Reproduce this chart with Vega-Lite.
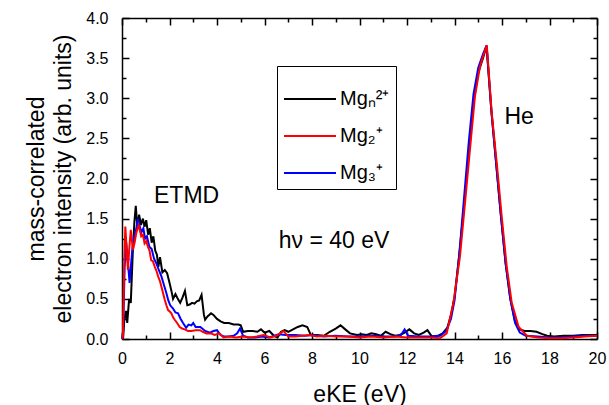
{
  "$schema": "https://vega.github.io/schema/vega-lite/v6.json",
  "width": 475,
  "height": 321,
  "autosize": {"type": "none"},
  "padding": {"left": 122, "top": 18, "right": 12, "bottom": 66},
  "background": "white",
  "config": {
    "font": "Liberation Sans",
    "view": {"stroke": null},
    "axis": {
      "domainColor": "black", "domainWidth": 1.5,
      "labelColor": "black", "labelFontSize": 16, "labelFont": "Liberation Sans",
      "titleFontSize": 23, "titleFontWeight": "normal", "titleColor": "black", "titleFont": "Liberation Sans"
    },
    "legend": {"labelFont": "Liberation Sans"}
  },
  "datasets": {
    "curves": [
      {"series": "Mgₙ²⁺", "x": 0, "y": 0},
      {"series": "Mgₙ²⁺", "x": 0.05, "y": 0.02},
      {"series": "Mgₙ²⁺", "x": 0.1, "y": 0.25},
      {"series": "Mgₙ²⁺", "x": 0.17, "y": 0.35},
      {"series": "Mgₙ²⁺", "x": 0.22, "y": 0.2},
      {"series": "Mgₙ²⁺", "x": 0.3, "y": 0.5},
      {"series": "Mgₙ²⁺", "x": 0.37, "y": 0.45},
      {"series": "Mgₙ²⁺", "x": 0.45, "y": 1.05},
      {"series": "Mgₙ²⁺", "x": 0.52, "y": 1.45},
      {"series": "Mgₙ²⁺", "x": 0.58, "y": 1.66},
      {"series": "Mgₙ²⁺", "x": 0.65, "y": 1.38},
      {"series": "Mgₙ²⁺", "x": 0.72, "y": 1.55},
      {"series": "Mgₙ²⁺", "x": 0.8, "y": 1.42},
      {"series": "Mgₙ²⁺", "x": 0.88, "y": 1.5},
      {"series": "Mgₙ²⁺", "x": 0.95, "y": 1.4},
      {"series": "Mgₙ²⁺", "x": 1.02, "y": 1.48},
      {"series": "Mgₙ²⁺", "x": 1.1, "y": 1.3},
      {"series": "Mgₙ²⁺", "x": 1.17, "y": 1.38},
      {"series": "Mgₙ²⁺", "x": 1.25, "y": 1.2},
      {"series": "Mgₙ²⁺", "x": 1.32, "y": 1.28},
      {"series": "Mgₙ²⁺", "x": 1.4, "y": 1.1},
      {"series": "Mgₙ²⁺", "x": 1.47, "y": 1.05},
      {"series": "Mgₙ²⁺", "x": 1.53, "y": 0.9},
      {"series": "Mgₙ²⁺", "x": 1.6, "y": 1.02},
      {"series": "Mgₙ²⁺", "x": 1.7, "y": 0.83},
      {"series": "Mgₙ²⁺", "x": 1.8, "y": 0.86},
      {"series": "Mgₙ²⁺", "x": 1.9, "y": 0.82},
      {"series": "Mgₙ²⁺", "x": 2.0, "y": 0.7},
      {"series": "Mgₙ²⁺", "x": 2.08, "y": 0.6},
      {"series": "Mgₙ²⁺", "x": 2.15, "y": 0.5},
      {"series": "Mgₙ²⁺", "x": 2.25, "y": 0.56},
      {"series": "Mgₙ²⁺", "x": 2.35, "y": 0.5},
      {"series": "Mgₙ²⁺", "x": 2.45, "y": 0.45},
      {"series": "Mgₙ²⁺", "x": 2.55, "y": 0.52},
      {"series": "Mgₙ²⁺", "x": 2.65, "y": 0.6},
      {"series": "Mgₙ²⁺", "x": 2.75, "y": 0.42},
      {"series": "Mgₙ²⁺", "x": 2.85, "y": 0.43},
      {"series": "Mgₙ²⁺", "x": 2.95, "y": 0.45},
      {"series": "Mgₙ²⁺", "x": 3.05, "y": 0.44},
      {"series": "Mgₙ²⁺", "x": 3.15, "y": 0.47},
      {"series": "Mgₙ²⁺", "x": 3.25, "y": 0.48},
      {"series": "Mgₙ²⁺", "x": 3.35, "y": 0.55},
      {"series": "Mgₙ²⁺", "x": 3.45, "y": 0.3},
      {"series": "Mgₙ²⁺", "x": 3.5, "y": 0.24},
      {"series": "Mgₙ²⁺", "x": 3.6, "y": 0.28},
      {"series": "Mgₙ²⁺", "x": 3.75, "y": 0.32},
      {"series": "Mgₙ²⁺", "x": 3.85, "y": 0.3},
      {"series": "Mgₙ²⁺", "x": 4.0, "y": 0.25},
      {"series": "Mgₙ²⁺", "x": 4.15, "y": 0.22},
      {"series": "Mgₙ²⁺", "x": 4.3, "y": 0.2},
      {"series": "Mgₙ²⁺", "x": 4.5, "y": 0.2},
      {"series": "Mgₙ²⁺", "x": 4.7, "y": 0.18},
      {"series": "Mgₙ²⁺", "x": 4.9, "y": 0.18},
      {"series": "Mgₙ²⁺", "x": 5.0, "y": 0.17},
      {"series": "Mgₙ²⁺", "x": 5.1, "y": 0.09},
      {"series": "Mgₙ²⁺", "x": 5.3, "y": 0.1},
      {"series": "Mgₙ²⁺", "x": 5.5, "y": 0.1},
      {"series": "Mgₙ²⁺", "x": 5.7, "y": 0.09},
      {"series": "Mgₙ²⁺", "x": 5.85, "y": 0.12},
      {"series": "Mgₙ²⁺", "x": 6.0, "y": 0.08},
      {"series": "Mgₙ²⁺", "x": 6.2, "y": 0.1},
      {"series": "Mgₙ²⁺", "x": 6.4, "y": 0.04},
      {"series": "Mgₙ²⁺", "x": 6.55, "y": 0.02},
      {"series": "Mgₙ²⁺", "x": 6.7, "y": 0.09},
      {"series": "Mgₙ²⁺", "x": 6.85, "y": 0.11},
      {"series": "Mgₙ²⁺", "x": 7.0, "y": 0.09},
      {"series": "Mgₙ²⁺", "x": 7.2, "y": 0.12},
      {"series": "Mgₙ²⁺", "x": 7.4, "y": 0.15},
      {"series": "Mgₙ²⁺", "x": 7.6, "y": 0.17},
      {"series": "Mgₙ²⁺", "x": 7.8, "y": 0.15},
      {"series": "Mgₙ²⁺", "x": 7.95, "y": 0.05},
      {"series": "Mgₙ²⁺", "x": 8.2, "y": 0.05},
      {"series": "Mgₙ²⁺", "x": 8.5, "y": 0.04},
      {"series": "Mgₙ²⁺", "x": 8.75, "y": 0.09},
      {"series": "Mgₙ²⁺", "x": 9.0, "y": 0.13},
      {"series": "Mgₙ²⁺", "x": 9.2, "y": 0.17},
      {"series": "Mgₙ²⁺", "x": 9.4, "y": 0.12},
      {"series": "Mgₙ²⁺", "x": 9.6, "y": 0.07},
      {"series": "Mgₙ²⁺", "x": 9.9, "y": 0.05},
      {"series": "Mgₙ²⁺", "x": 10.1, "y": 0.06},
      {"series": "Mgₙ²⁺", "x": 10.3, "y": 0.05},
      {"series": "Mgₙ²⁺", "x": 10.5, "y": 0.07},
      {"series": "Mgₙ²⁺", "x": 10.7, "y": 0.06},
      {"series": "Mgₙ²⁺", "x": 10.9, "y": 0.04},
      {"series": "Mgₙ²⁺", "x": 11.1, "y": 0.09},
      {"series": "Mgₙ²⁺", "x": 11.3, "y": 0.06},
      {"series": "Mgₙ²⁺", "x": 11.5, "y": 0.04},
      {"series": "Mgₙ²⁺", "x": 11.7, "y": 0.05},
      {"series": "Mgₙ²⁺", "x": 11.9, "y": 0.08},
      {"series": "Mgₙ²⁺", "x": 12.1, "y": 0.12},
      {"series": "Mgₙ²⁺", "x": 12.3, "y": 0.07},
      {"series": "Mgₙ²⁺", "x": 12.5, "y": 0.05},
      {"series": "Mgₙ²⁺", "x": 12.7, "y": 0.08},
      {"series": "Mgₙ²⁺", "x": 12.86, "y": 0.11},
      {"series": "Mgₙ²⁺", "x": 13.05, "y": 0.03},
      {"series": "Mgₙ²⁺", "x": 13.3, "y": 0.04},
      {"series": "Mgₙ²⁺", "x": 13.5, "y": 0.07},
      {"series": "Mgₙ²⁺", "x": 13.7, "y": 0.14},
      {"series": "Mgₙ²⁺", "x": 13.85, "y": 0.3},
      {"series": "Mgₙ²⁺", "x": 14.0, "y": 0.52},
      {"series": "Mgₙ²⁺", "x": 14.2, "y": 1.05},
      {"series": "Mgₙ²⁺", "x": 14.4, "y": 1.65},
      {"series": "Mgₙ²⁺", "x": 14.6, "y": 2.3},
      {"series": "Mgₙ²⁺", "x": 14.8, "y": 2.95},
      {"series": "Mgₙ²⁺", "x": 15.0, "y": 3.32},
      {"series": "Mgₙ²⁺", "x": 15.2, "y": 3.5},
      {"series": "Mgₙ²⁺", "x": 15.35, "y": 3.65},
      {"series": "Mgₙ²⁺", "x": 15.55, "y": 2.85},
      {"series": "Mgₙ²⁺", "x": 15.75, "y": 2.2},
      {"series": "Mgₙ²⁺", "x": 15.95, "y": 1.55},
      {"series": "Mgₙ²⁺", "x": 16.15, "y": 0.95},
      {"series": "Mgₙ²⁺", "x": 16.35, "y": 0.5},
      {"series": "Mgₙ²⁺", "x": 16.55, "y": 0.22},
      {"series": "Mgₙ²⁺", "x": 16.75, "y": 0.12},
      {"series": "Mgₙ²⁺", "x": 16.95, "y": 0.1},
      {"series": "Mgₙ²⁺", "x": 17.2, "y": 0.1},
      {"series": "Mgₙ²⁺", "x": 17.45, "y": 0.09},
      {"series": "Mgₙ²⁺", "x": 17.7, "y": 0.06},
      {"series": "Mgₙ²⁺", "x": 17.9, "y": 0.04},
      {"series": "Mgₙ²⁺", "x": 18.2, "y": 0.03},
      {"series": "Mgₙ²⁺", "x": 18.6, "y": 0.04},
      {"series": "Mgₙ²⁺", "x": 19.0, "y": 0.04},
      {"series": "Mgₙ²⁺", "x": 19.4, "y": 0.05},
      {"series": "Mgₙ²⁺", "x": 19.8, "y": 0.05},
      {"series": "Mgₙ²⁺", "x": 20.0, "y": 0.05},

      {"series": "Mg₃⁺", "x": 0, "y": 0},
      {"series": "Mg₃⁺", "x": 0.05, "y": 0.1},
      {"series": "Mg₃⁺", "x": 0.11, "y": 0.9},
      {"series": "Mg₃⁺", "x": 0.18, "y": 1.2},
      {"series": "Mg₃⁺", "x": 0.25, "y": 0.95},
      {"series": "Mg₃⁺", "x": 0.32, "y": 0.7},
      {"series": "Mg₃⁺", "x": 0.4, "y": 1.0},
      {"series": "Mg₃⁺", "x": 0.46, "y": 1.2},
      {"series": "Mg₃⁺", "x": 0.53, "y": 1.3},
      {"series": "Mg₃⁺", "x": 0.6, "y": 1.37},
      {"series": "Mg₃⁺", "x": 0.67, "y": 1.5},
      {"series": "Mg₃⁺", "x": 0.75, "y": 1.4},
      {"series": "Mg₃⁺", "x": 0.82, "y": 1.33},
      {"series": "Mg₃⁺", "x": 0.9, "y": 1.38},
      {"series": "Mg₃⁺", "x": 0.97, "y": 1.25},
      {"series": "Mg₃⁺", "x": 1.05, "y": 1.28},
      {"series": "Mg₃⁺", "x": 1.15, "y": 1.15},
      {"series": "Mg₃⁺", "x": 1.25, "y": 1.12},
      {"series": "Mg₃⁺", "x": 1.35, "y": 1.0},
      {"series": "Mg₃⁺", "x": 1.45, "y": 0.94},
      {"series": "Mg₃⁺", "x": 1.55, "y": 0.86},
      {"series": "Mg₃⁺", "x": 1.66, "y": 0.78},
      {"series": "Mg₃⁺", "x": 1.76, "y": 0.68},
      {"series": "Mg₃⁺", "x": 1.87, "y": 0.57},
      {"series": "Mg₃⁺", "x": 1.95, "y": 0.48},
      {"series": "Mg₃⁺", "x": 2.03, "y": 0.42},
      {"series": "Mg₃⁺", "x": 2.15, "y": 0.38},
      {"series": "Mg₃⁺", "x": 2.25, "y": 0.33},
      {"series": "Mg₃⁺", "x": 2.36, "y": 0.32},
      {"series": "Mg₃⁺", "x": 2.47, "y": 0.25},
      {"series": "Mg₃⁺", "x": 2.57, "y": 0.2},
      {"series": "Mg₃⁺", "x": 2.7, "y": 0.14},
      {"series": "Mg₃⁺", "x": 2.8, "y": 0.18},
      {"series": "Mg₃⁺", "x": 2.92, "y": 0.17},
      {"series": "Mg₃⁺", "x": 3.0, "y": 0.2},
      {"series": "Mg₃⁺", "x": 3.1, "y": 0.15},
      {"series": "Mg₃⁺", "x": 3.3, "y": 0.15},
      {"series": "Mg₃⁺", "x": 3.5, "y": 0.1},
      {"series": "Mg₃⁺", "x": 3.7, "y": 0.08},
      {"series": "Mg₃⁺", "x": 3.85, "y": 0.1},
      {"series": "Mg₃⁺", "x": 4.0, "y": 0.11},
      {"series": "Mg₃⁺", "x": 4.15, "y": 0.05},
      {"series": "Mg₃⁺", "x": 4.3, "y": 0.03},
      {"series": "Mg₃⁺", "x": 4.5, "y": 0.03},
      {"series": "Mg₃⁺", "x": 4.7, "y": 0.04},
      {"series": "Mg₃⁺", "x": 4.85, "y": 0.07},
      {"series": "Mg₃⁺", "x": 4.97, "y": 0.13},
      {"series": "Mg₃⁺", "x": 5.1, "y": 0.04},
      {"series": "Mg₃⁺", "x": 5.3, "y": 0.02},
      {"series": "Mg₃⁺", "x": 5.6, "y": 0.02},
      {"series": "Mg₃⁺", "x": 5.9, "y": 0.03},
      {"series": "Mg₃⁺", "x": 6.2, "y": 0.02},
      {"series": "Mg₃⁺", "x": 6.6, "y": 0.06},
      {"series": "Mg₃⁺", "x": 6.9, "y": 0.05},
      {"series": "Mg₃⁺", "x": 7.3, "y": 0.05},
      {"series": "Mg₃⁺", "x": 7.7, "y": 0.04},
      {"series": "Mg₃⁺", "x": 8.0, "y": 0.05},
      {"series": "Mg₃⁺", "x": 8.5, "y": 0.03},
      {"series": "Mg₃⁺", "x": 9.0, "y": 0.04},
      {"series": "Mg₃⁺", "x": 9.5, "y": 0.03},
      {"series": "Mg₃⁺", "x": 10.0, "y": 0.03},
      {"series": "Mg₃⁺", "x": 10.5, "y": 0.04},
      {"series": "Mg₃⁺", "x": 11.0, "y": 0.03},
      {"series": "Mg₃⁺", "x": 11.5, "y": 0.03},
      {"series": "Mg₃⁺", "x": 11.75, "y": 0.05},
      {"series": "Mg₃⁺", "x": 11.9, "y": 0.12},
      {"series": "Mg₃⁺", "x": 12.05, "y": 0.04},
      {"series": "Mg₃⁺", "x": 12.5, "y": 0.03},
      {"series": "Mg₃⁺", "x": 13.0, "y": 0.03},
      {"series": "Mg₃⁺", "x": 13.4, "y": 0.04},
      {"series": "Mg₃⁺", "x": 13.65, "y": 0.1},
      {"series": "Mg₃⁺", "x": 13.85, "y": 0.25},
      {"series": "Mg₃⁺", "x": 14.0, "y": 0.48},
      {"series": "Mg₃⁺", "x": 14.2, "y": 1.05},
      {"series": "Mg₃⁺", "x": 14.4, "y": 1.75},
      {"series": "Mg₃⁺", "x": 14.6, "y": 2.45},
      {"series": "Mg₃⁺", "x": 14.8, "y": 3.05},
      {"series": "Mg₃⁺", "x": 15.0, "y": 3.38},
      {"series": "Mg₃⁺", "x": 15.2, "y": 3.55},
      {"series": "Mg₃⁺", "x": 15.35, "y": 3.66},
      {"series": "Mg₃⁺", "x": 15.55, "y": 2.85},
      {"series": "Mg₃⁺", "x": 15.75, "y": 2.2},
      {"series": "Mg₃⁺", "x": 15.95, "y": 1.55},
      {"series": "Mg₃⁺", "x": 16.15, "y": 0.95},
      {"series": "Mg₃⁺", "x": 16.35, "y": 0.5},
      {"series": "Mg₃⁺", "x": 16.55, "y": 0.2},
      {"series": "Mg₃⁺", "x": 16.75, "y": 0.08},
      {"series": "Mg₃⁺", "x": 17.0, "y": 0.04},
      {"series": "Mg₃⁺", "x": 17.5, "y": 0.03},
      {"series": "Mg₃⁺", "x": 18.0, "y": 0.02},
      {"series": "Mg₃⁺", "x": 18.5, "y": 0.02},
      {"series": "Mg₃⁺", "x": 19.0, "y": 0.03},
      {"series": "Mg₃⁺", "x": 19.5, "y": 0.04},
      {"series": "Mg₃⁺", "x": 20.0, "y": 0.04},

      {"series": "Mg₂⁺", "x": 0, "y": 0},
      {"series": "Mg₂⁺", "x": 0.04, "y": 0.03},
      {"series": "Mg₂⁺", "x": 0.1, "y": 1.0},
      {"series": "Mg₂⁺", "x": 0.14, "y": 1.4},
      {"series": "Mg₂⁺", "x": 0.2, "y": 1.1},
      {"series": "Mg₂⁺", "x": 0.25, "y": 0.86},
      {"series": "Mg₂⁺", "x": 0.3, "y": 1.1},
      {"series": "Mg₂⁺", "x": 0.37, "y": 1.36},
      {"series": "Mg₂⁺", "x": 0.46, "y": 1.11},
      {"series": "Mg₂⁺", "x": 0.53, "y": 1.2},
      {"series": "Mg₂⁺", "x": 0.6, "y": 1.32},
      {"series": "Mg₂⁺", "x": 0.7, "y": 1.42},
      {"series": "Mg₂⁺", "x": 0.81, "y": 1.28},
      {"series": "Mg₂⁺", "x": 0.88, "y": 1.3},
      {"series": "Mg₂⁺", "x": 0.95, "y": 1.19},
      {"series": "Mg₂⁺", "x": 1.02, "y": 1.22},
      {"series": "Mg₂⁺", "x": 1.09, "y": 1.15},
      {"series": "Mg₂⁺", "x": 1.16, "y": 1.1},
      {"series": "Mg₂⁺", "x": 1.23, "y": 0.98},
      {"series": "Mg₂⁺", "x": 1.3, "y": 0.97},
      {"series": "Mg₂⁺", "x": 1.38, "y": 0.9},
      {"series": "Mg₂⁺", "x": 1.45, "y": 0.85},
      {"series": "Mg₂⁺", "x": 1.52, "y": 0.78},
      {"series": "Mg₂⁺", "x": 1.6, "y": 0.72},
      {"series": "Mg₂⁺", "x": 1.66, "y": 0.65},
      {"series": "Mg₂⁺", "x": 1.73, "y": 0.57},
      {"series": "Mg₂⁺", "x": 1.8, "y": 0.49},
      {"series": "Mg₂⁺", "x": 1.87, "y": 0.42},
      {"series": "Mg₂⁺", "x": 1.94, "y": 0.36},
      {"series": "Mg₂⁺", "x": 2.02, "y": 0.34},
      {"series": "Mg₂⁺", "x": 2.08, "y": 0.32},
      {"series": "Mg₂⁺", "x": 2.15, "y": 0.27},
      {"series": "Mg₂⁺", "x": 2.22, "y": 0.24},
      {"series": "Mg₂⁺", "x": 2.32, "y": 0.2},
      {"series": "Mg₂⁺", "x": 2.43, "y": 0.15},
      {"series": "Mg₂⁺", "x": 2.53, "y": 0.13},
      {"series": "Mg₂⁺", "x": 2.64, "y": 0.12},
      {"series": "Mg₂⁺", "x": 2.78, "y": 0.1},
      {"series": "Mg₂⁺", "x": 2.92, "y": 0.1},
      {"series": "Mg₂⁺", "x": 3.1, "y": 0.11},
      {"series": "Mg₂⁺", "x": 3.28, "y": 0.11},
      {"series": "Mg₂⁺", "x": 3.4, "y": 0.09},
      {"series": "Mg₂⁺", "x": 3.56, "y": 0.07},
      {"series": "Mg₂⁺", "x": 3.75, "y": 0.07},
      {"series": "Mg₂⁺", "x": 3.9, "y": 0.05},
      {"series": "Mg₂⁺", "x": 4.1, "y": 0.07},
      {"series": "Mg₂⁺", "x": 4.27, "y": 0.02},
      {"series": "Mg₂⁺", "x": 4.5, "y": 0.03},
      {"series": "Mg₂⁺", "x": 4.8, "y": 0.02},
      {"series": "Mg₂⁺", "x": 5.1, "y": 0.03},
      {"series": "Mg₂⁺", "x": 5.4, "y": 0.02},
      {"series": "Mg₂⁺", "x": 5.68, "y": 0.03},
      {"series": "Mg₂⁺", "x": 5.96, "y": 0.05},
      {"series": "Mg₂⁺", "x": 6.25, "y": 0.02},
      {"series": "Mg₂⁺", "x": 6.5, "y": 0.04},
      {"series": "Mg₂⁺", "x": 6.8, "y": 0.1},
      {"series": "Mg₂⁺", "x": 7.0, "y": 0.03},
      {"series": "Mg₂⁺", "x": 7.3, "y": 0.03},
      {"series": "Mg₂⁺", "x": 7.6, "y": 0.04},
      {"series": "Mg₂⁺", "x": 7.9, "y": 0.05},
      {"series": "Mg₂⁺", "x": 8.2, "y": 0.03},
      {"series": "Mg₂⁺", "x": 8.6, "y": 0.04},
      {"series": "Mg₂⁺", "x": 9.0, "y": 0.03},
      {"series": "Mg₂⁺", "x": 9.5, "y": 0.03},
      {"series": "Mg₂⁺", "x": 10.0, "y": 0.02},
      {"series": "Mg₂⁺", "x": 10.5, "y": 0.03},
      {"series": "Mg₂⁺", "x": 11.0, "y": 0.02},
      {"series": "Mg₂⁺", "x": 11.5, "y": 0.03},
      {"series": "Mg₂⁺", "x": 12.0, "y": 0.02},
      {"series": "Mg₂⁺", "x": 12.5, "y": 0.02},
      {"series": "Mg₂⁺", "x": 13.0, "y": 0.02},
      {"series": "Mg₂⁺", "x": 13.39, "y": 0.01},
      {"series": "Mg₂⁺", "x": 13.67, "y": 0.07},
      {"series": "Mg₂⁺", "x": 13.95, "y": 0.44},
      {"series": "Mg₂⁺", "x": 14.23, "y": 1.03},
      {"series": "Mg₂⁺", "x": 14.44, "y": 1.69},
      {"series": "Mg₂⁺", "x": 14.65, "y": 2.36},
      {"series": "Mg₂⁺", "x": 14.86, "y": 3.02},
      {"series": "Mg₂⁺", "x": 15.07, "y": 3.39},
      {"series": "Mg₂⁺", "x": 15.2, "y": 3.52},
      {"series": "Mg₂⁺", "x": 15.36, "y": 3.66},
      {"series": "Mg₂⁺", "x": 15.57, "y": 2.81},
      {"series": "Mg₂⁺", "x": 15.78, "y": 2.19},
      {"series": "Mg₂⁺", "x": 15.99, "y": 1.52},
      {"series": "Mg₂⁺", "x": 16.2, "y": 0.9},
      {"series": "Mg₂⁺", "x": 16.41, "y": 0.45},
      {"series": "Mg₂⁺", "x": 16.7, "y": 0.15},
      {"series": "Mg₂⁺", "x": 17.05, "y": 0.04},
      {"series": "Mg₂⁺", "x": 17.5, "y": 0.02},
      {"series": "Mg₂⁺", "x": 18.0, "y": 0.01},
      {"series": "Mg₂⁺", "x": 18.5, "y": 0.01},
      {"series": "Mg₂⁺", "x": 19.0, "y": 0.02},
      {"series": "Mg₂⁺", "x": 19.5, "y": 0.03},
      {"series": "Mg₂⁺", "x": 20.0, "y": 0.04}
    ],
    "notes": [
      {"x": 2.72, "y": 1.69, "label": "ETMD"},
      {"x": 8.93, "y": 1.13, "label": "hν = 40 eV"},
      {"x": 16.72, "y": 2.68, "label": "He"}
    ]
  },
  "resolve": {"axis": {"x": "independent", "y": "independent"}},
  "layer": [
    {
      "data": {"name": "curves"},
      "mark": {"type": "line", "strokeWidth": 2, "interpolate": "linear"},
      "encoding": {
        "x": {
          "field": "x", "type": "quantitative",
          "scale": {"domain": [0, 20], "nice": false, "zero": false},
          "axis": {
            "orient": "bottom",
            "values": [0,2,4,6,8,10,12,14,16,18,20],
            "ticks": false, "tickSize": 0,
            "grid": true, "gridColor": "black", "gridWidth": 1.5, "gridOpacity": 1, "gridDash": [7, 307, 7, 60],
            "labelOverlap": false, "labelFlush": false, "labelPadding": 11,
            "title": "eKE (eV)", "titlePadding": 17
          }
        },
        "y": {
          "field": "y", "type": "quantitative",
          "scale": {"domain": [0, 4], "nice": false, "zero": false},
          "axis": {
            "orient": "left",
            "values": [0,0.5,1,1.5,2,2.5,3,3.5,4],
            "format": ".1f",
            "ticks": false, "tickSize": 0,
            "grid": true, "gridColor": "black", "gridWidth": 1.5, "gridOpacity": 1, "gridDash": [7, 461, 7, 60],
            "labelOverlap": false, "labelFlush": false, "labelPadding": 14,
            "title": ["mass-correlated", "electron intensity (arb. units)"],
            "titleLineHeight": 27, "titlePadding": 10
          }
        },
        "color": {
          "field": "series", "type": "nominal",
          "scale": {"domain": ["Mgₙ²⁺", "Mg₂⁺", "Mg₃⁺"], "range": ["#000000", "#ff0000", "#0000ff"]},
          "legend": {
            "title": null, "orient": "none", "legendX": 155, "legendY": 48,
            "symbolType": "stroke", "symbolSize": 2704, "symbolStrokeWidth": 2,
            "labelFontSize": 20, "labelColor": "black", "labelOffset": 3,
            "strokeColor": "black", "padding": 6, "rowPadding": -3,
            "fillColor": "white"
          }
        }
      }
    },
    {
      "data": {"name": "notes"},
      "mark": {"type": "text", "fontSize": 23, "align": "center", "baseline": "alphabetic", "color": "black", "font": "Liberation Sans"},
      "encoding": {
        "x": {"field": "x", "type": "quantitative",
          "axis": {"orient": "top", "title": null, "labels": false, "ticks": false, "tickSize": 0,
            "values": [1,3,5,7,9,11,13,15,17,19],
            "grid": true, "gridColor": "black", "gridWidth": 1.5, "gridOpacity": 1, "gridDash": [4, 313, 4, 60]}},
        "y": {"field": "y", "type": "quantitative",
          "axis": {"orient": "right", "title": null, "labels": false, "ticks": false, "tickSize": 0,
            "values": [0.25,0.75,1.25,1.75,2.25,2.75,3.25,3.75],
            "grid": true, "gridColor": "black", "gridWidth": 1.5, "gridOpacity": 1, "gridDash": [4, 467, 4, 60]}},
        "text": {"field": "label"}
      }
    }
  ]
}
